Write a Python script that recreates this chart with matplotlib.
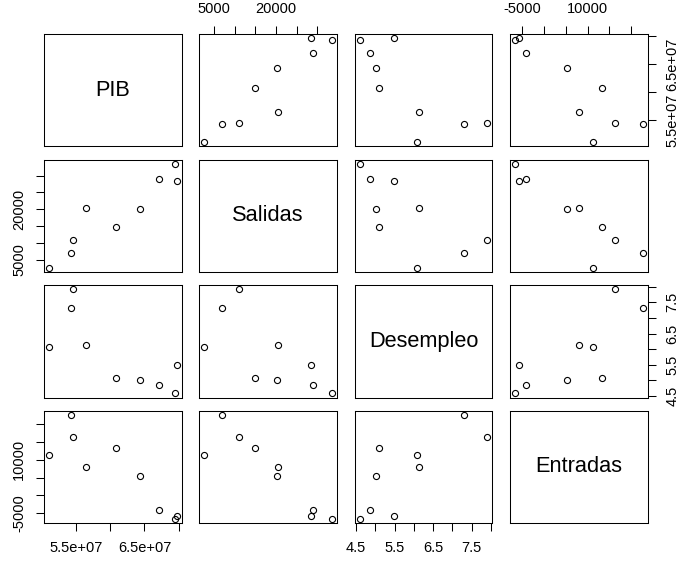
import matplotlib
matplotlib.use('Agg')
import matplotlib.pyplot as plt

plt.rcParams['font.family'] = ['Liberation Sans', 'DejaVu Sans']

names = ['PIB', 'Salidas', 'Desempleo', 'Entradas']
pib = [5.11e7, 5.43e7, 5.455e7, 5.65e7, 6.08e7, 6.43e7, 6.71e7, 6.94e7, 6.97e7]
salidas = [2700, 7000, 11050, 20400, 14830, 20200, 29000, 33500, 28350]
desempleo = [6.08, 7.30, 7.91, 6.12, 5.09, 5.02, 4.87, 4.59, 5.48]
entradas = [11300, 22600, 16300, 8000, 13300, 5400, -4150, -6600, -5760]

pib_ticks = [5.5e7, 6.0e7, 6.5e7, 7.0e7]
pib_labels = ['5.5e+07', '', '6.5e+07', '']
salidas_ticks = [5000, 10000, 15000, 20000, 25000, 30000]
salidas_labels = ['5000', '', '', '20000', '', '']
desempleo_ticks = [4.5, 5.0, 5.5, 6.0, 6.5, 7.0, 7.5, 8.0]
desempleo_labels = ['4.5', '', '5.5', '', '6.5', '', '7.5', '']
entradas_ticks = [-5000, 0, 5000, 10000, 15000, 20000]
entradas_labels = ['-5000', '', '', '10000', '', '']

data = [pib, salidas, desempleo, entradas]
ticks = [pib_ticks, salidas_ticks, desempleo_ticks, entradas_ticks]
labels = [pib_labels, salidas_labels, desempleo_labels, entradas_labels]


def lims(v):
    lo, hi = min(v), max(v)
    r = hi - lo
    return lo - 0.04 * r, hi + 0.04 * r


W, H = 686, 563
fig = plt.figure(figsize=(W / 100, H / 100), dpi=100)

x0, y0 = 44, 34
pw, ph = 137.8, 112.3
gx, gy = 17.5, 13.3

tick_kw = dict(direction='out', length=5.8, width=0.75, labelsize=10.5, pad=7)

for i in range(4):
    for j in range(4):
        left = x0 + j * (pw + gx)
        top = y0 + i * (ph + gy)
        ax = fig.add_axes([left / W, 1 - (top + ph) / H, pw / W, ph / H])
        for s in ax.spines.values():
            s.set_linewidth(0.75)
        ax.tick_params(axis='both', which='both', bottom=False, top=False, left=False, right=False,
                       labelbottom=False, labeltop=False, labelleft=False, labelright=False)
        if i == j:
            ax.set_xticks([])
            ax.set_yticks([])
            ax.text(0.5, 0.5, names[i], ha='center', va='center', fontsize=15.7,
                    transform=ax.transAxes)
            continue
        ax.plot(data[j], data[i], 'o', mfc='none', mec='black', ms=4.4, mew=0.8)
        ax.set_xlim(*lims(data[j]))
        ax.set_ylim(*lims(data[i]))
        ax.set_xticks(ticks[j], labels[j])
        ax.set_yticks(ticks[i], labels[i], rotation=90, va='center')
        if i == 0 and j % 2 == 1:
            ax.tick_params(axis='x', top=True, labeltop=True, **tick_kw)
        if i == 3 and j % 2 == 0:
            ax.tick_params(axis='x', bottom=True, labelbottom=True, **tick_kw)
        if j == 0 and i % 2 == 1:
            ax.tick_params(axis='y', left=True, labelleft=True, **tick_kw)
        if j == 3 and i % 2 == 0:
            ax.tick_params(axis='y', right=True, labelright=True, **tick_kw)

fig.savefig('out.png', dpi=100)
